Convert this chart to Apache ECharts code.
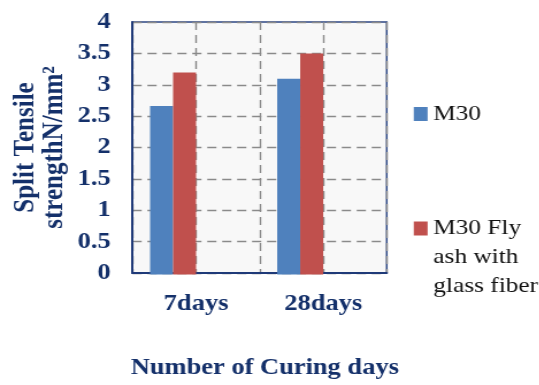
<!DOCTYPE html>
<html>
<head>
<meta charset="utf-8">
<script src="https://cdn.jsdelivr.net/npm/echarts@6/dist/echarts.min.js"></script>
<style>
  html, body { margin: 0; padding: 0; background: #fff; overflow: hidden; }
  /* the drawing is laid out narrow and widened, giving the broad serif lettering */
  #chart { width: 469px; height: 385px; transform: scaleX(1.15); transform-origin: 0 0; }
</style>
</head>
<body>
<div id="chart"></div>
<script>
// Split tensile strength by curing age
const categories = ['7days', '28days'];
const seriesNames = ['M30', 'M30 Fly ash with glass fiber'];
const m30 = [2.67, 3.1];
const m30FlyAshGlassFiber = [3.2, 3.5];
const yTicks = { min: 0, max: 4, step: 0.5 };

const SERIF = "'Liberation Serif', 'Times New Roman', serif";
const NAVY = '#14306a';
const GRID_DASH = { color: '#8a8a8a', width: 1.4, type: [8, 5] };

const chart = echarts.init(document.getElementById('chart'), null, { renderer: 'canvas' });

const gridFrame = { top: 22, bottom: 110.5 };

chart.setOption({
  animation: false,
  backgroundColor: '#ffffff',
  grid: [
    // plotting frame with axes and guide lines
    { left: 115.2, right: 132.7, top: gridFrame.top, bottom: gridFrame.bottom,
      show: true, backgroundColor: '#f8f8f8', borderColor: '#2c4683', borderWidth: 1.5 },
    // bar layer, each pair sits left of its category label
    { left: 95.2, right: 152.7, top: gridFrame.top, bottom: gridFrame.bottom }
  ],
  legend: [
    {
      data: [seriesNames[0]],
      left: 354.8, top: 94.5, orient: 'vertical',
      itemWidth: 12, itemHeight: 14, itemGap: 0,
      icon: 'rect',
      textStyle: { fontFamily: SERIF, fontSize: 22, color: '#111', lineHeight: 29 }
    },
    {
      data: [seriesNames[1]],
      left: 354.8, top: 151, orient: 'vertical',
      itemWidth: 12, itemHeight: 14, itemGap: 0,
      icon: 'rect',
      formatter: () => '\n\nM30 Fly\nash with\nglass fiber',
      textStyle: { fontFamily: SERIF, fontSize: 22, color: '#111', lineHeight: 29 }
    }
  ],
  xAxis: [
    {
      type: 'category', gridIndex: 0, data: categories,
      axisLine: { show: true, lineStyle: { color: '#1f3a78', width: 2 } },
      axisTick: { show: false },
      axisLabel: { margin: 20, fontFamily: SERIF, fontSize: 23, fontWeight: 'bold', color: NAVY },
      splitLine: { show: false },
      name: 'Number of Curing days', nameLocation: 'middle', nameGap: 84,
      nameTextStyle: { fontFamily: SERIF, fontSize: 23, fontWeight: 'bold', color: NAVY, padding: [0, 0, 0, 9] }
    },
    {
      type: 'category', gridIndex: 1, data: categories, show: false
    },
    {
      // vertical guide lines at each label and between the two ages
      type: 'value', gridIndex: 0, min: 0, max: 4, interval: 1,
      axisLine: { show: false }, axisTick: { show: false }, axisLabel: { show: false },
      splitLine: { show: true, lineStyle: GRID_DASH }
    }
  ],
  yAxis: [
    {
      type: 'value', gridIndex: 0, min: yTicks.min, max: yTicks.max, interval: yTicks.step,
      axisLine: { show: true, lineStyle: { color: '#1f3a78', width: 2 } },
      axisTick: { show: false },
      axisLabel: { margin: 19, fontFamily: SERIF, fontSize: 23, fontWeight: 'bold', color: NAVY },
      splitLine: { show: true, lineStyle: GRID_DASH },
      name: 'Split Tensile\nstrengthN/mm²', nameLocation: 'middle', nameGap: 55,
      nameTextStyle: { fontFamily: SERIF, fontSize: 25, fontWeight: 'bold', color: NAVY, lineHeight: 25 }
    },
    {
      type: 'value', gridIndex: 1, min: yTicks.min, max: yTicks.max, interval: yTicks.step, show: false
    }
  ],
  series: [
    {
      name: seriesNames[0], type: 'bar', xAxisIndex: 1, yAxisIndex: 1,
      data: m30, barWidth: 20, barGap: '0%',
      itemStyle: { color: '#4f81bd' }
    },
    {
      name: seriesNames[1], type: 'bar', xAxisIndex: 1, yAxisIndex: 1,
      data: m30FlyAshGlassFiber, barWidth: 20, barGap: '0%',
      itemStyle: { color: '#c0504d' }
    }
  ]
});
</script>
</body>
</html>
